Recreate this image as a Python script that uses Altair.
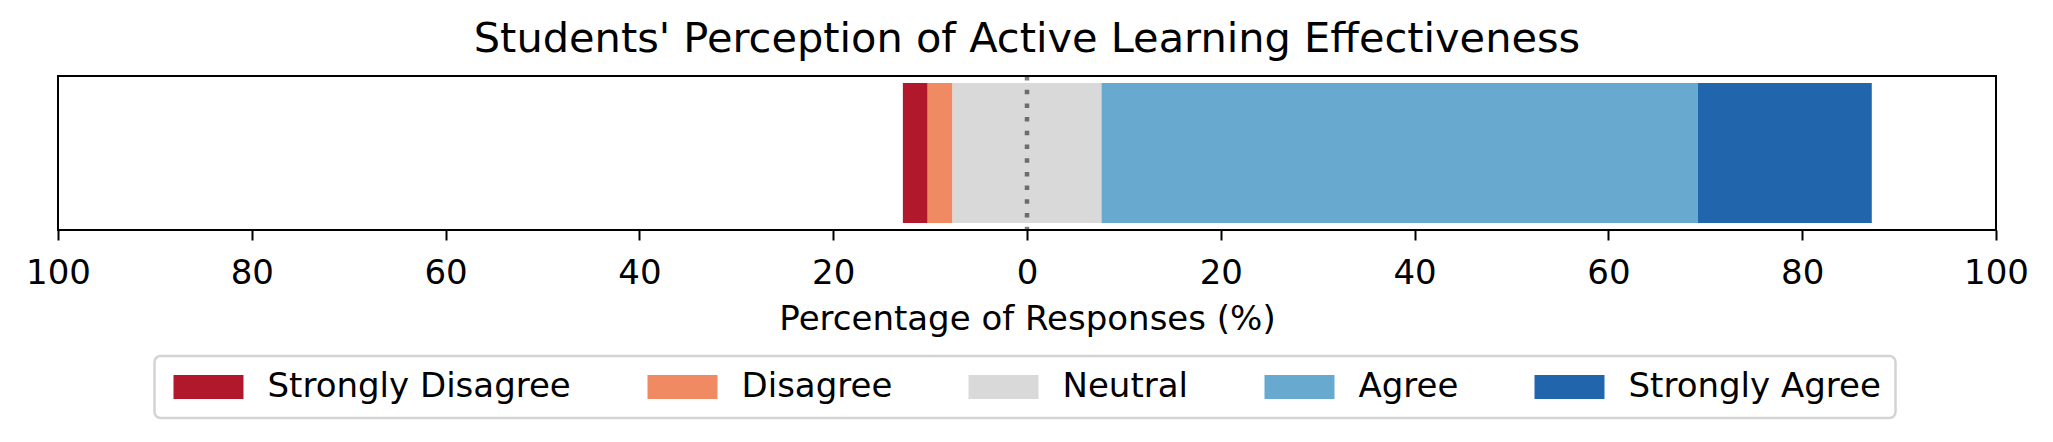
import altair as alt
import pandas as pd

# survey answers (percent of responses)
categories = ["Strongly Disagree", "Disagree", "Neutral", "Agree", "Strongly Agree"]
percentages = [2.56, 2.56, 15.38, 61.54, 17.95]
colors = ["#b2182b", "#ef8a62", "#d9d9d9", "#67a9cf", "#2166ac"]
question = ["Active learning"]
tick_values = [-100, -80, -60, -40, -20, 0, 20, 40, 60, 80, 100]
zero_line = [0]

FONT = "DejaVu Sans"

# diverging stack: neutral is split half on each side of zero
start = -(percentages[0] + percentages[1] + percentages[2] / 2)
rows = []
for cat, pct in zip(categories, percentages):
    rows.append({"question": question[0], "response": cat, "start": start, "end": start + pct})
    start += pct
df = pd.DataFrame(rows)

x_title = "Percentage of Responses (%)"

bars = alt.Chart(df).mark_bar().encode(
    x=alt.X(
        "start:Q",
        title=x_title,
        scale=alt.Scale(domain=[-100, 100], nice=False, zero=False),
        axis=alt.Axis(
            values=tick_values,
            labelExpr="'' + abs(datum.value)",
            labelFlush=False,
            grid=False,
            domain=False,
            ticks=True,
            tickSize=10,
            tickWidth=2,
            tickColor="black",
            labelFontSize=34,
            labelColor="black",
            labelPadding=16,
            titleFontSize=34,
            titleFontWeight="normal",
            titleColor="black",
            titleBaseline="alphabetic",
            titleY=99,
        ),
    ),
    x2="end:Q",
    y=alt.Y("question:N", axis=None,
            scale=alt.Scale(paddingInner=0.09, paddingOuter=0.045)),
    color=alt.Color(
        "response:N",
        sort=categories,
        scale=alt.Scale(domain=categories, range=colors),
        legend=alt.Legend(
            title=None,
            orient="none",
            legendX=96.5,
            legendY=280,
            direction="horizontal",
            columns=5,
            symbolType="M-1,-1 h5.833 v2 h-5.833 Z",
            symbolSize=576,
            symbolStrokeWidth=0,
            symbolOpacity=1,
            labelFontSize=34,
            labelColor="black",
            labelLimit=600,
            labelOffset=65,
            columnPadding=71,
            padding=14,
            strokeColor="#d4d4d4",
            cornerRadius=6,
            fillColor="white",
        ),
    ),
)

zero = alt.Chart(pd.DataFrame({"zero": zero_line})).mark_rule(
    color="black", opacity=0.5, strokeWidth=4.5, strokeDash=[4.5, 9.2]
).encode(x=alt.X("zero:Q", title=x_title))

chart = (bars + zero).properties(
    width=1938,
    height=154,
    padding={"left": 50, "top": 68, "right": 40, "bottom": 200},
    autosize=alt.AutoSizeParams(type="none"),
    title=alt.TitleParams(
        "Students' Perception of Active Learning Effectiveness",
        fontSize=41.5,
        font=FONT,
        fontWeight="normal",
        color="black",
        anchor="middle",
        baseline="alphabetic",
        offset=23,
        dy=43,
    ),
).configure(font=FONT).configure_view(
    stroke="black", strokeWidth=2
).configure_legend(strokeWidth=2.5)

chart.save("out.html", embed_options={"renderer": "svg", "actions": False})
